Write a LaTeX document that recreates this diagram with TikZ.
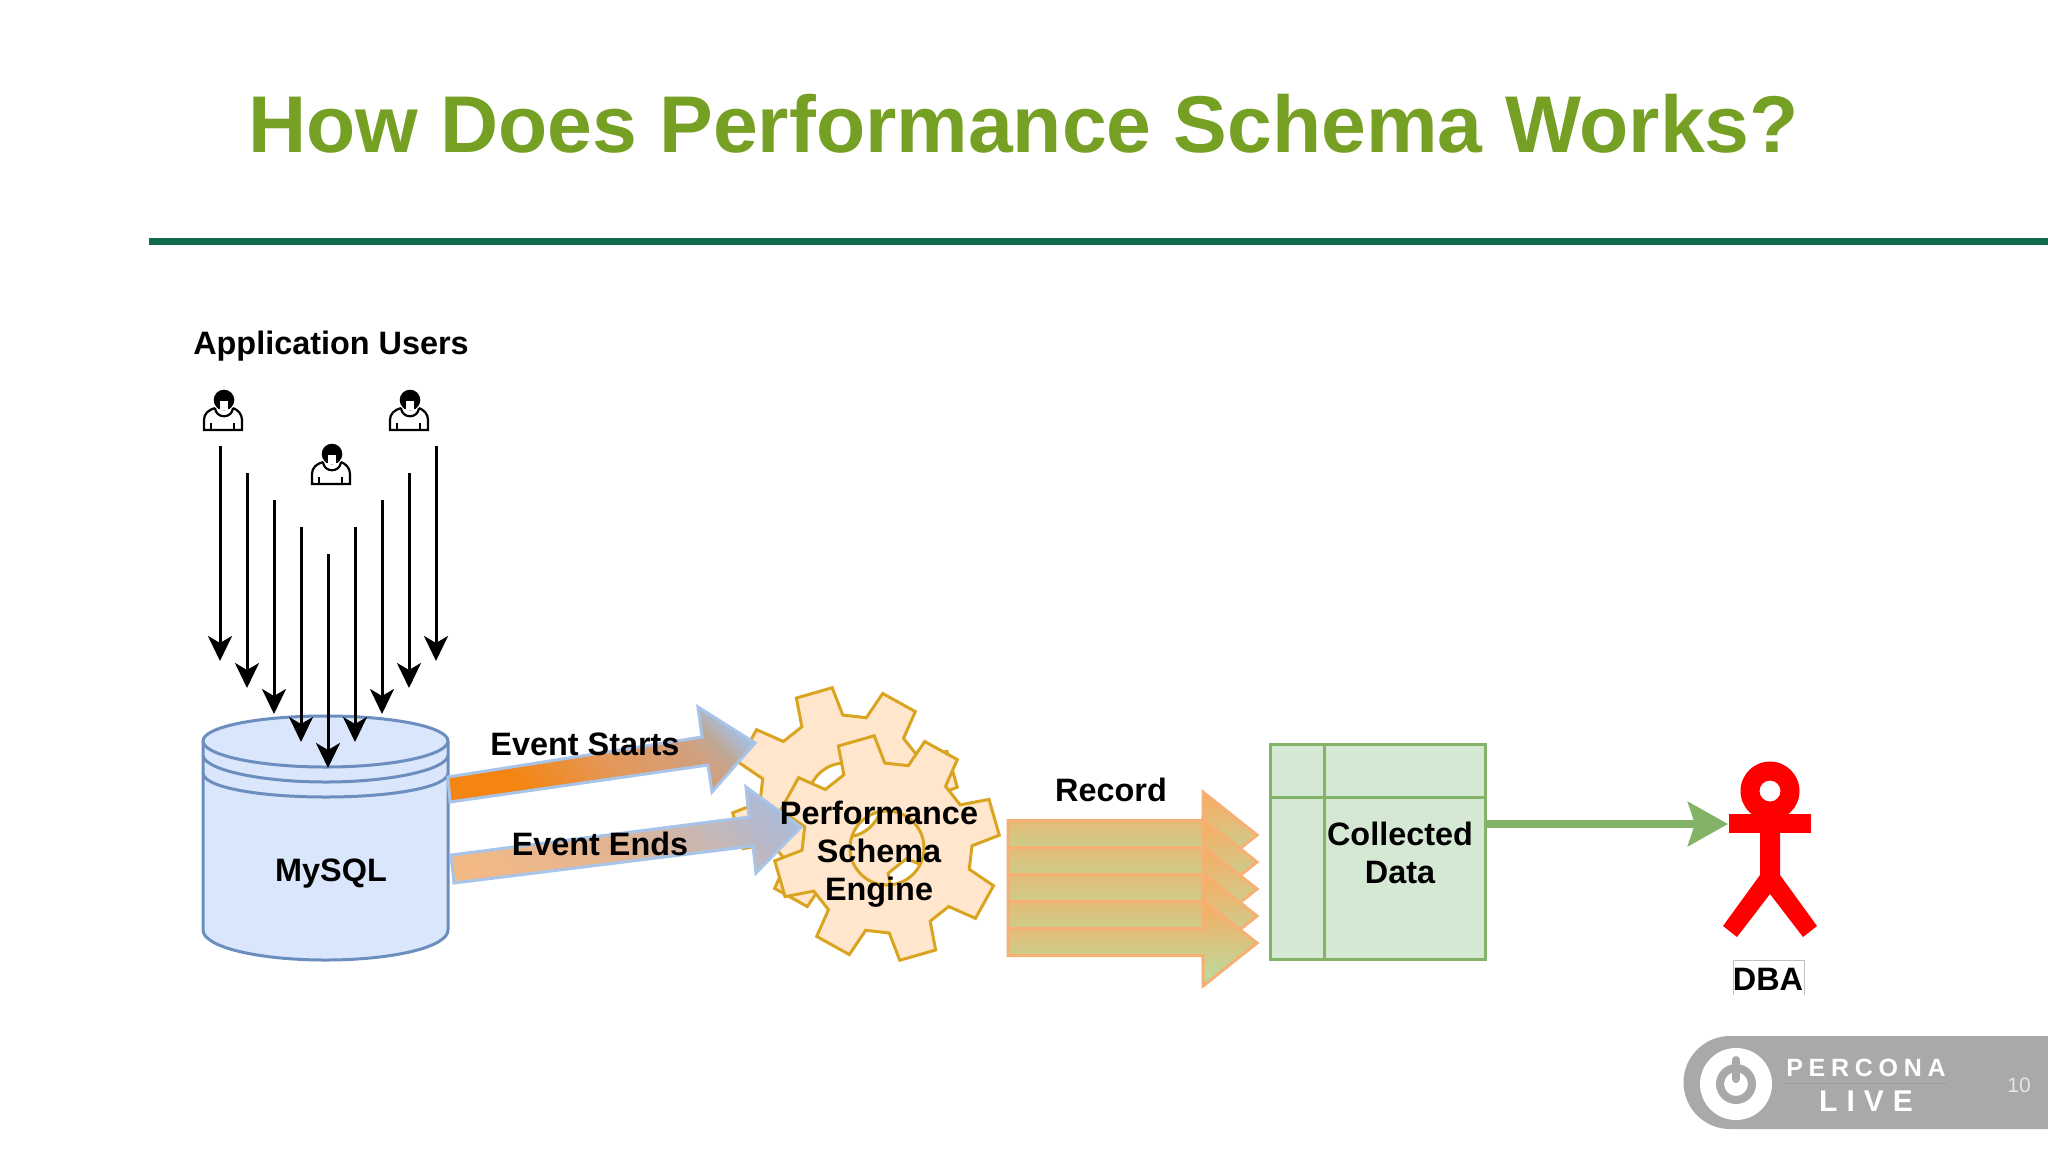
\documentclass[tikz,border=0pt]{standalone}
\usepackage{fontspec}
\setmainfont{Liberation Sans}
\usetikzlibrary{arrows.meta}
\definecolor{titlegreen}{HTML}{76A023}
\definecolor{rulegreen}{HTML}{0F6A4E}
\definecolor{cylfill}{HTML}{D9E6FB}
\definecolor{cylline}{HTML}{6C8EBF}
\definecolor{gearfill}{HTML}{FFE6CC}
\definecolor{gearline}{HTML}{D9A520}
\definecolor{tabfill}{HTML}{D5E8D4}
\definecolor{tabline}{HTML}{82B366}
\definecolor{recline}{HTML}{F6B074}
\definecolor{rectop}{HTML}{FBAA60}
\definecolor{recmid}{HTML}{D8CD8A}
\definecolor{recbot}{HTML}{B5DFA3}
\definecolor{evline}{HTML}{A8C4E8}
\definecolor{evblue}{HTML}{A9BCDC}
\definecolor{sa}{HTML}{F48512}
\definecolor{sb}{HTML}{E4985A}
\definecolor{sc}{HTML}{D0A080}
\definecolor{sd}{HTML}{C0A896}
\definecolor{ea}{HTML}{F3B985}
\definecolor{eb}{HTML}{E0B494}
\definecolor{ec}{HTML}{C4B8B8}
\definecolor{ed}{HTML}{B8B8C8}
\definecolor{logogrey}{HTML}{A9A8AB}
\pgfdeclarehorizontalshading{evstartshade}{100bp}{color(0bp)=(sa); color(30bp)=(sa); color(50bp)=(sb); color(67bp)=(sc); color(72bp)=(sd); color(78bp)=(evblue); color(100bp)=(evblue)}
\pgfdeclarehorizontalshading{evendshade}{100bp}{color(0bp)=(ea); color(20bp)=(ea); color(48bp)=(eb); color(64bp)=(ec); color(71bp)=(ed); color(80bp)=(evblue); color(100bp)=(evblue)}
\tikzset{
  x=1pt,y=-1pt,
  lbl/.style={font=\fontsize{32.4}{38}\selectfont\bfseries,text=black,inner sep=0pt,align=center},
  userarrow/.style={draw=black,line width=3pt,-{Stealth[length=25pt,width=24pt,inset=7pt]}},
  cyl/.style={draw=cylline,line width=3pt,fill=cylfill,line join=round},
  cylcurve/.style={draw=cylline,line width=3pt},
  gearshape/.style={draw=gearline,line width=3pt,fill=gearfill,even odd rule,line join=miter},
  evarrow/.style={draw=evline,line width=3pt,line join=miter,shade,shading=#1,shading angle=45},
  recarrow/.style={draw=recline,line width=3pt,top color=rectop,middle color=recmid,bottom color=recbot},
  tabbox/.style={draw=tabline,line width=3pt,fill=tabfill,minimum width=215pt,minimum height=215pt,inner sep=0pt},
  tabrule/.style={draw=tabline,line width=3pt},
  appuser/.pic={
    \fill[black] (21,10) circle[radius=10.3];
    \fill[white] (16,11) -- (26,11) -- (26,20) -- (16,20) -- cycle;
    \draw[black,line width=2.2pt] (16,10) -- (16,19) (26,10) -- (26,19);
    \draw[black,line width=2.2pt,line join=miter] (12,18) .. controls (5,20) and (1,24) .. (1,30) -- (1,40) -- (39,40) -- (39,30) .. controls (39,24) and (35,20) .. (30,18);
    \draw[black,line width=2.2pt] (12,18) .. controls (13,29) and (29,29) .. (30,18);
    \draw[black,line width=2.2pt] (8,33) -- (8,40) (31,33) -- (31,40);
  }
}
\newcommand{\gearat}[2]{%
  \path[gearshape] ({#1+85*cos(1.5)},{#2-85*sin(1.5)})
    \foreach \a in {16,61,106,151,196,241,286,331}{
      -- ({#1+85*cos(\a-14.5)},{#2-85*sin(\a-14.5)})
      -- ({#1+113*cos(\a-9.5)},{#2-113*sin(\a-9.5)})
      -- ({#1+113*cos(\a+9.5)},{#2-113*sin(\a+9.5)})
      -- ({#1+85*cos(\a+14.5)},{#2-85*sin(\a+14.5)})
    } -- cycle
    (#1,#2) circle[radius=37];}
\newcommand{\recordarrow}[1]{%
  \path[recarrow] (1008,{#1-13.5}) -- (1203,{#1-13.5}) -- (1203,{#1-42}) -- (1257,{#1+1}) -- (1203,{#1+44}) -- (1203,{#1+13.5}) -- (1008,{#1+13.5}) -- cycle;}
\begin{document}
\begin{tikzpicture}
\useasboundingbox (0,0) rectangle (2048,1152);
\fill[white] (0,0) rectangle (2048,1152);

% title and rule
\node[inner sep=0pt,text=titlegreen,font=\fontsize{80.5}{90}\selectfont\bfseries] (title) at (1023.5,124) {How Does Performance Schema Works?};
\fill[rulegreen] (149,238) rectangle (2048,245);

% users
\node[lbl] (appusers) at (331,346) {Application Users};
\pic at (203,390) {appuser};
\pic at (389,390) {appuser};
\pic at (311,444) {appuser};

% cylinder
\path[cyl] (203,741) -- (203,930) .. controls (203,947) and (258,960) .. (325.5,960) .. controls (393,960) and (448,947) .. (448,930) -- (448,741) .. controls (448,727) and (393,716) .. (325.5,716) .. controls (258,716) and (203,727) .. (203,741) -- cycle;
\path[cylcurve] (203,741) .. controls (203,755) and (258,767) .. (325.5,767) .. controls (393,767) and (448,755) .. (448,741);
\path[cylcurve] (203,755) .. controls (203,769) and (258,782) .. (325.5,782) .. controls (393,782) and (448,769) .. (448,755);
\path[cylcurve] (203,773) .. controls (203,787) and (258,797) .. (325.5,797) .. controls (393,797) and (448,787) .. (448,773);
\node[lbl] (mysql) at (331,874) {MySQL};

% user arrows
\foreach \i/\x/\t/\b in {1/220/446/661,2/247/473/688,3/274/500/714,4/301/527/742,5/328/554/768,6/355/527/742,7/382/500/714,8/409/473/688,9/436/446/661}{
  \coordinate (ua\i) at (\x,\t);
  \coordinate (ub\i) at (\x,\b);
  \draw[userarrow] (ua\i) -- (ub\i);
}

% gears
\gearat{845}{800}
\gearat{887}{848}

% event arrows
\path[evarrow=evstartshade]
  (448,777) -- (702,737) -- (698,707) -- (755,743) -- (712,792) -- (708,765) -- (450,802) -- cycle;
\path[evarrow=evendshade]
  (451,855) -- (749,817) -- (746,787) -- (801,827) -- (756,873) -- (753,846) -- (454,883) -- cycle;
\node[lbl] (evstart) at (585,744) {Event Starts};
\node[lbl] (evend) at (600,844) {Event Ends};
\node[lbl] (engine) at (879,854) {Performance\\Schema\\Engine};

% record arrows
\foreach \y in {834,861,888,915,942}{\recordarrow{\y}}
\node[lbl] (record) at (1111,790) {Record};

% table
\node[tabbox] (coltable) at (1377.5,851.5) {};
\draw[tabrule] (1324,743) -- (1324,960);
\draw[tabrule] (1270,797) -- (1485,797);
\node[lbl] (coldata) at (1400,852.5) {Collected\\Data};

% actor
\fill[red,even odd rule] (1770,791) circle[radius=29.5] (1770,791) circle[radius=10.5];
\fill[red] (1729,814) rectangle (1811,833);
\fill[red] (1760,833) -- (1780,833) -- (1780,875) -- (1817,926) -- (1803,937) -- (1770,894) -- (1737,937) -- (1723,926) -- (1760,875) -- cycle;
\coordinate (tabout) at (1486,824);
\coordinate (actorin) at (1728,824);
\draw[draw=tabline,line width=8pt,-{Stealth[length=40pt,width=44pt,inset=7pt]}] (tabout) -- (actorin);
\draw[black!25,line width=0.8pt] (1733,995) -- (1733,960) -- (1804,960) -- (1804,995);
\node[lbl] (dba) at (1768,979) {DBA};

% logo
\fill[logogrey] (2048,1036) -- (1730,1036) arc[start angle=-90,end angle=-270,radius=46.5] -- (2048,1129) -- cycle;
\fill[white] (1736,1084) circle[radius=36];
\fill[logogrey,even odd rule] (1736,1084) circle[radius=20] (1736,1084) circle[radius=12];
\draw[logogrey,line width=8pt,line cap=round] (1736,1060) -- (1736,1079);
\draw[black!40,line width=0.6pt] (1785,1083) -- (1946,1083);
\node[inner sep=0pt,text=white,font=\fontsize{25}{25}\selectfont\bfseries\addfontfeature{LetterSpace=23}] (percona) at (1866,1068) {PERCONA};
\node[inner sep=0pt,text=white,font=\fontsize{30}{30}\selectfont\bfseries\addfontfeature{LetterSpace=30}] (live) at (1866,1101) {LIVE};
\node[inner sep=0pt,text=white!70!logogrey,font=\fontsize{21}{21}\selectfont] (pagenum) at (2019,1085) {10};
\end{tikzpicture}
\end{document}
